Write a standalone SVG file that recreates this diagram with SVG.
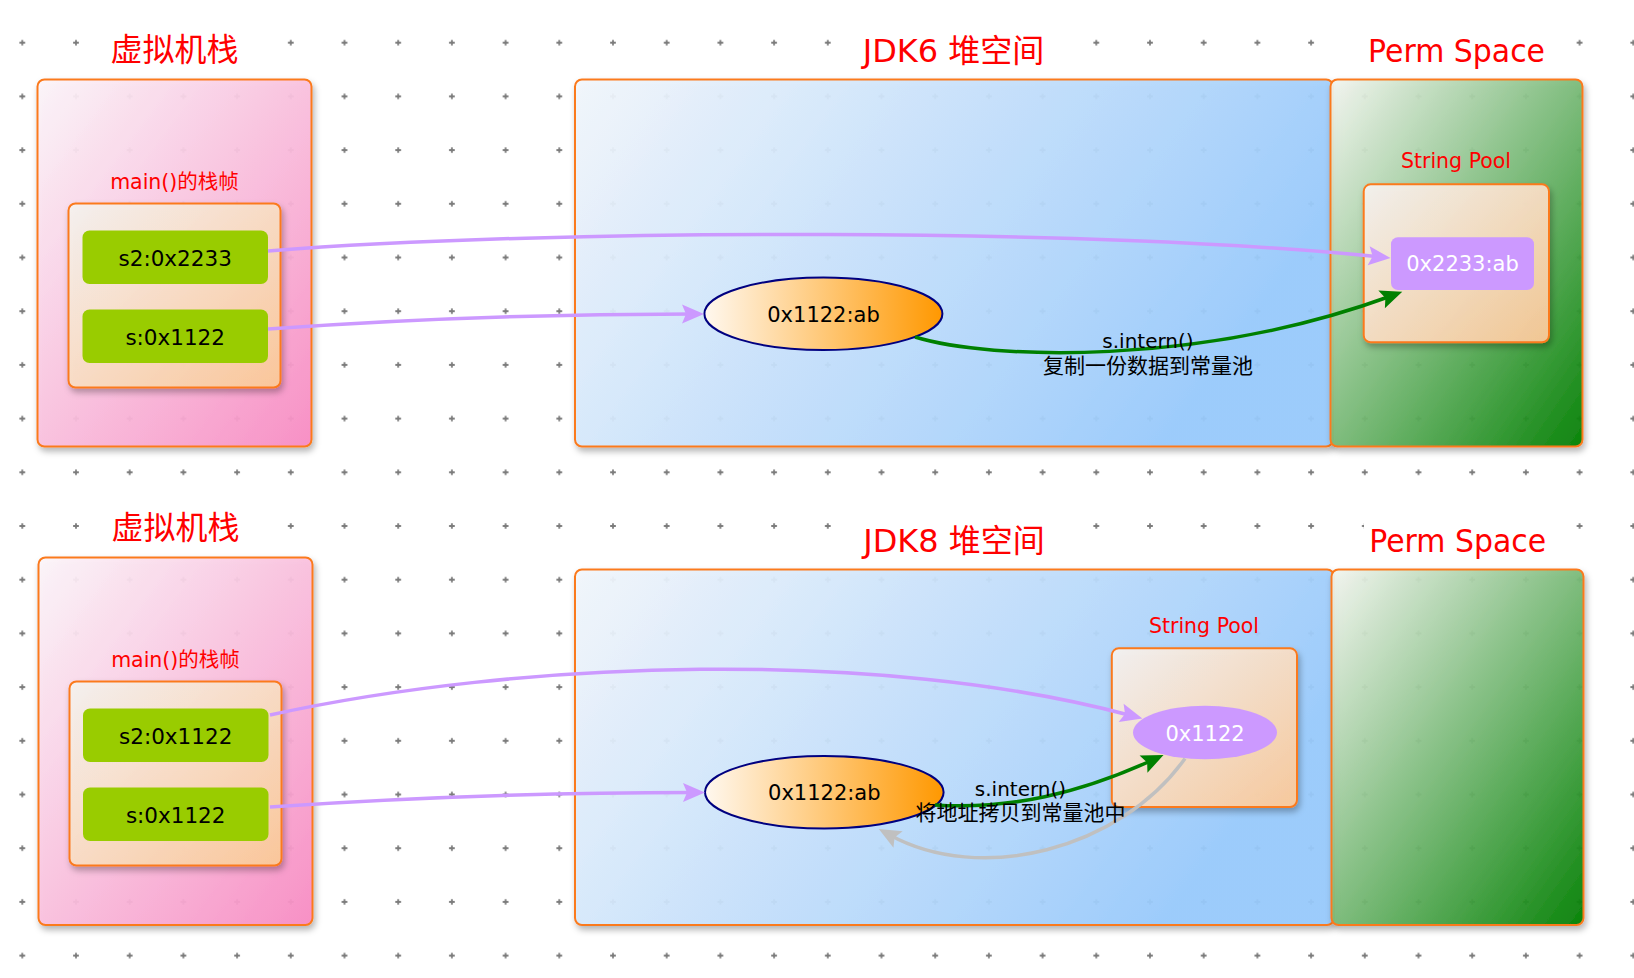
<svg xmlns="http://www.w3.org/2000/svg" width="1634" height="978" viewBox="0 0 1634 978">
<defs>
<style>
.title{font-family:"DejaVu Sans","Noto Sans CJK SC",sans-serif;font-size:32px;fill:#ff0000;text-anchor:middle}
.sub{font-family:"DejaVu Sans","Noto Sans CJK SC",sans-serif;font-size:20.5px;fill:#ff0000;text-anchor:middle}
.val{font-family:"DejaVu Sans",sans-serif;font-size:21.5px;fill:#000;text-anchor:middle}
.wval{font-family:"DejaVu Sans",sans-serif;font-size:21px;fill:#fff;text-anchor:middle}
.lbl{font-family:"DejaVu Sans","Noto Sans CJK SC",sans-serif;font-size:20px;fill:#000;text-anchor:middle}
.cjk{font-size:21px}
.box{stroke:#fb7a1e;stroke-width:2;filter:url(#sh);fill-opacity:0.93}
.tbg{fill:#fff}
.green{fill:#99cc00}
.conn{fill:none;stroke-width:3.5}
</style>
<pattern id="grid" patternUnits="userSpaceOnUse" x="-4.55" y="15.85" width="53.7" height="53.7">
<path d="M24,26.85H29.7M26.85,24V29.7" stroke="#7c7c7c" stroke-width="1.8"/>
</pattern>
<filter id="sh" x="-10%" y="-10%" width="125%" height="125%">
<feDropShadow dx="2" dy="4" stdDeviation="3" flood-color="#000" flood-opacity="0.3"/>
</filter>
<linearGradient id="gPink" x1="0" y1="0" x2="1" y2="1">
<stop offset="0" stop-color="#fcf6fa"/><stop offset="1" stop-color="#f98cc4"/>
</linearGradient>
<linearGradient id="gPeach" x1="0" y1="0" x2="1" y2="1">
<stop offset="0" stop-color="#f6f3f1"/><stop offset="1" stop-color="#fdca99"/>
</linearGradient>
<linearGradient id="gBlue" x1="0" y1="0" x2="1" y2="0.35">
<stop offset="0" stop-color="#f3f7fc"/><stop offset="1" stop-color="#99cbfd"/>
</linearGradient>
<linearGradient id="gGreen" x1="0" y1="0" x2="1" y2="1">
<stop offset="0" stop-color="#f4f6f1"/><stop offset="1" stop-color="#008000"/>
</linearGradient>
<linearGradient id="gOrange" x1="0" y1="0" x2="1" y2="0">
<stop offset="0" stop-color="#fff8ef"/><stop offset="1" stop-color="#ff9800"/>
</linearGradient>
<marker id="ahP" markerUnits="userSpaceOnUse" orient="auto" viewBox="-12 -12 26 24" markerWidth="26" markerHeight="24" refX="0" refY="0">
<path d="M12,0 L-10,-9.5 L-6,0 L-10,9.5 Z" fill="#cc99ff"/>
</marker>
<marker id="ahG" markerUnits="userSpaceOnUse" orient="auto" viewBox="-12 -12 26 24" markerWidth="26" markerHeight="24" refX="0" refY="0">
<path d="M12,0 L-10,-9.5 L-6,0 L-10,9.5 Z" fill="#008000"/>
</marker>
<marker id="ahS" markerUnits="userSpaceOnUse" orient="auto" viewBox="-12 -12 26 24" markerWidth="26" markerHeight="24" refX="0" refY="0">
<path d="M12,0 L-10,-9.5 L-6,0 L-10,9.5 Z" fill="#c0c0c0"/>
</marker>
</defs>

<rect width="1634" height="978" fill="#fff"/>
<rect width="1634" height="978" fill="url(#grid)"/>

<!-- ===== Top: JDK6 ===== -->
<g id="vm-stack-jdk6">
<rect class="tbg" x="104" y="30" width="142" height="40"/>
<text class="title" x="174.5" y="61">虚拟机栈</text>
<rect class="box" x="37.5" y="79.5" width="274" height="367" rx="7" fill="url(#gPink)"/>
<text class="sub" x="174.5" y="189">main()的栈帧</text>
</g>
<g id="frame-jdk6">
<rect class="box" x="68.5" y="203.5" width="212" height="184" rx="7" fill="url(#gPeach)"/>
</g>
<g id="var-s2-jdk6">
<rect class="green" x="82.5" y="230.5" width="185.5" height="53.5" rx="7"/>
<text class="val" x="175.2" y="265.5">s2:0x2233</text>
</g>
<g id="var-s-jdk6">
<rect class="green" x="82.5" y="309.5" width="185.5" height="53.5" rx="7"/>
<text class="val" x="175.2" y="344.5">s:0x1122</text>
</g>

<g id="heap-jdk6">
<rect class="tbg" x="856" y="30" width="196" height="40"/>
<text class="title" x="953.5" y="61.5">JDK6 堆空间</text>
<rect class="box" x="575" y="79.5" width="758" height="367" rx="7" fill="url(#gBlue)"/>
</g>
<g id="obj-jdk6">
<ellipse cx="823.4" cy="313.8" rx="119" ry="36.2" fill="url(#gOrange)" stroke="#000080" stroke-width="2"/>
<text class="val" style="font-size:21px" x="823.5" y="321.5">0x1122:ab</text>
</g>

<g id="perm-jdk6">
<rect class="tbg" x="1359" y="30" width="194" height="40"/>
<text class="title" x="1456.5" y="61.5" textLength="177" lengthAdjust="spacingAndGlyphs">Perm Space</text>
<rect class="box" x="1330.5" y="79.5" width="252" height="367" rx="7" fill="url(#gGreen)"/>
<text class="sub" x="1456" y="168">String Pool</text>
</g>
<g id="pool-jdk6">
<rect class="box" x="1363.7" y="184.3" width="185.3" height="158" rx="7" fill="url(#gPeach)"/>
</g>
<g id="str-jdk6">
<rect x="1391" y="237.3" width="143" height="52.7" rx="7" fill="#cc99ff"/>
<text class="wval" x="1462.5" y="271">0x2233:ab</text>
</g>

<!-- ===== Bottom: JDK8 ===== -->
<g id="vm-stack-jdk8">
<rect class="tbg" x="104" y="508" width="142" height="40"/>
<text class="title" x="175.5" y="539">虚拟机栈</text>
<rect class="box" x="38.5" y="557.5" width="274" height="367.5" rx="7" fill="url(#gPink)"/>
<text class="sub" x="175.5" y="667">main()的栈帧</text>
</g>
<g id="frame-jdk8">
<rect class="box" x="69.5" y="681.5" width="212" height="184" rx="7" fill="url(#gPeach)"/>
</g>
<g id="var-s2-jdk8">
<rect class="green" x="83" y="708.5" width="185.5" height="53.5" rx="7"/>
<text class="val" x="175.7" y="743.5">s2:0x1122</text>
</g>
<g id="var-s-jdk8">
<rect class="green" x="83" y="787.5" width="185.5" height="53.5" rx="7"/>
<text class="val" x="175.7" y="822.5">s:0x1122</text>
</g>

<g id="heap-jdk8">
<rect class="tbg" x="856" y="519" width="196" height="42"/>
<text class="title" x="954" y="551.5">JDK8 堆空间</text>
<rect class="box" x="575" y="569.5" width="759" height="355.5" rx="7" fill="url(#gBlue)"/>
<text class="sub" x="1204" y="633">String Pool</text>
</g>
<g id="pool-jdk8">
<rect class="box" x="1111.8" y="648.3" width="185.2" height="158.7" rx="7" fill="url(#gPeach)"/>
</g>
<g id="obj-jdk8">
<ellipse cx="824.3" cy="792.2" rx="119.3" ry="36.2" fill="url(#gOrange)" stroke="#000080" stroke-width="2"/>
<text class="val" style="font-size:21px" x="824.3" y="800">0x1122:ab</text>
</g>
<g id="ref-jdk8">
<ellipse cx="1205" cy="732.5" rx="72" ry="26.7" fill="#cc99ff"/>
<text class="wval" x="1205" y="740.5">0x1122</text>
</g>

<g id="perm-jdk8">
<rect class="tbg" x="1364" y="519" width="190" height="42"/>
<text class="title" x="1457.7" y="551.5" textLength="177" lengthAdjust="spacingAndGlyphs">Perm Space</text>
<rect class="box" x="1331.5" y="569.5" width="252" height="355.5" rx="7" fill="url(#gGreen)"/>
</g>

<!-- ===== Connectors ===== -->
<g id="connectors">
<path class="conn" stroke="#cc99ff" marker-end="url(#ahP)" d="M268,251 C560,228 1100,228 1378.6,256.8"/>
<path class="conn" stroke="#cc99ff" marker-end="url(#ahP)" d="M268,329 C420,318 560,314 692,314"/>
<path class="conn" stroke="#008000" marker-end="url(#ahG)" d="M915,337 C990,360 1200,366 1391,296"/>
<text class="lbl" x="1148" y="347.5">s.intern()</text>
<text class="lbl cjk" x="1148" y="372.5">复制一份数据到常量池</text>

<path class="conn" stroke="#cc99ff" marker-end="url(#ahP)" d="M270,715 C520,660 880,648 1130.8,715.5"/>
<path class="conn" stroke="#cc99ff" marker-end="url(#ahP)" d="M270,807 C420,797 560,792.5 693,792.5"/>
<path class="conn" stroke="#c0c0c0" marker-end="url(#ahS)" d="M1185,758.5 C1120,850 980,885 889.3,834.7"/>
<path class="conn" stroke="#008000" marker-end="url(#ahG)" d="M935,805 C1010,810 1080,793 1152.6,760"/>
<text class="lbl" x="1020.5" y="795.5">s.intern()</text>
<text class="lbl cjk" x="1020.5" y="820">将地址拷贝到常量池中</text>
</g>
</svg>
